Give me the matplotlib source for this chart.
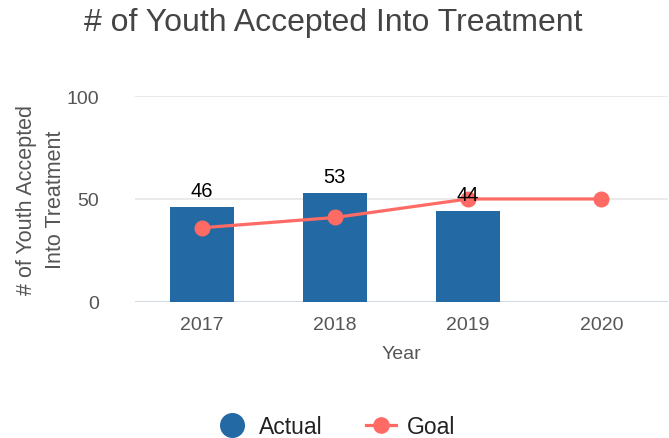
import numpy as np
import matplotlib.pyplot as plt
from matplotlib.lines import Line2D

plt.rcParams['font.family'] = ['Liberation Sans', 'DejaVu Sans']

# chart data
years = ['2017', '2018', '2019', '2020']
actual = [46, 53, 44, None]
goal = [36, 41, 50, 50]

bar_color = '#2369a3'
goal_color = '#fe6b64'

fig = plt.figure(figsize=(6.69, 4.39), dpi=100)
ax = fig.add_axes([0.2018, 0.310, 0.7967, 0.469])

x = np.arange(len(years))
bx = [i for i, v in zip(x, actual) if v is not None]
bv = [v for v in actual if v is not None]
ax.bar(bx, bv, width=0.48, color=bar_color, zorder=2)
ax.plot(x, goal, color=goal_color, lw=2.3, marker='o', ms=10.5, zorder=3)

for i, v in zip(bx, bv):
    ax.annotate(str(v), (i, v), xytext=(0, 5), textcoords='offset points',
                ha='center', va='bottom', fontsize=14.5, color='black', zorder=4)

ax.set_xlim(-0.5, 3.5)
ax.set_ylim(0, 100)
ax.set_yticks([0, 50, 100])
ax.set_xticks(x)
ax.set_xticklabels(years)
ax.tick_params(length=0, labelsize=14, colors='#555555', pad=10)
ax.tick_params(axis='y', pad=26)
for s in ax.spines.values():
    s.set_visible(False)
ax.grid(axis='y', color='#e6e6e6', lw=1.2, zorder=0)
ax.axhline(0, color='#c8d4e3', lw=1.8, zorder=1)
ax.set_axisbelow(True)

ax.set_xlabel('Year', fontsize=14, color='#555555', labelpad=9)
ax.set_ylabel('# of Youth Accepted\nInto Treatment', fontsize=15.5, color='#555555',
              labelpad=0, linespacing=1.5)

fig.text(0.498, 0.948, '# of Youth Accepted Into Treatment', ha='center', va='center',
         fontsize=23, color='#444444')

handles = [Line2D([], [], color=bar_color, marker='o', ls='none', ms=17),
           Line2D([], [], color=goal_color, marker='o', lw=2.3, ms=11)]
fig.legend(handles, ['Actual', 'Goal'], loc='center', bbox_to_anchor=(0.503, 0.027),
           ncol=2, frameon=False, fontsize=16.5, handlelength=1.3, columnspacing=1.9,
           handletextpad=0.5, labelcolor='#222222')

fig.savefig('out.png', dpi=100)
